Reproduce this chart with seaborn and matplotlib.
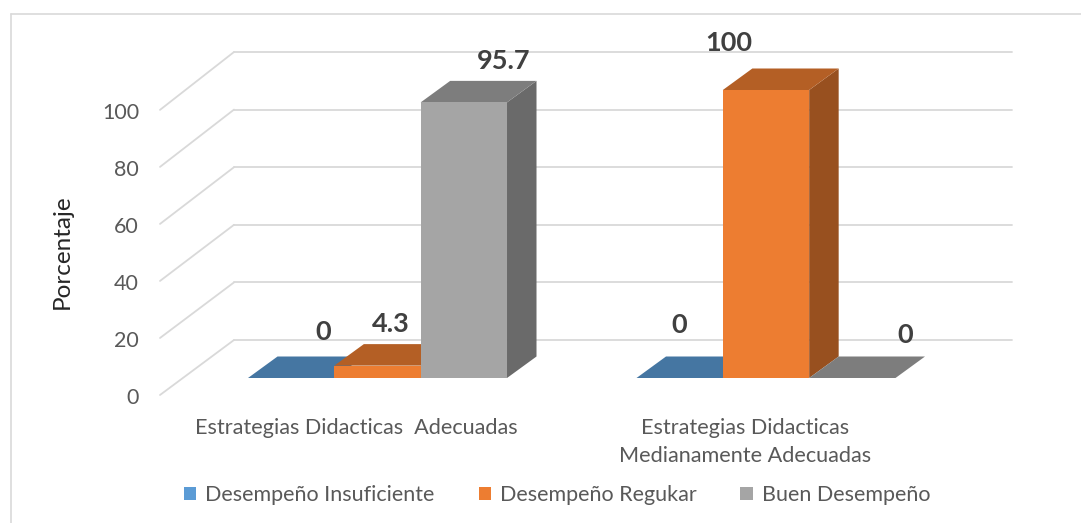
import numpy as np
import pandas as pd
import matplotlib
matplotlib.use("Agg")
import matplotlib.pyplot as plt
import matplotlib.colors as mcolors
from matplotlib.patches import Polygon
from matplotlib.lines import Line2D
from matplotlib.transforms import ScaledTranslation
import seaborn as sns

# ---------------- data ----------------
categories = ["Estrategias Didacticas  Adecuadas",
              "Estrategias Didacticas\nMedianamente Adecuadas"]
series = ["Desempeño Insuficiente", "Desempeño Regukar", "Buen Desempeño"]
insuficiente = [0, 0]
regular = [4.3, 100]
bueno = [95.7, 0]
y_ticks = [0, 20, 40, 60, 80, 100]
y_label = "Porcentaje"

# ---------------- style ----------------
colors = ["#5B9BD5", "#ED7D31", "#A5A5A5"]
TOP_SHADE, SIDE_SHADE = 0.76, 0.64
GRID_C = "#D9D9D9"
TXT_C = "#595959"

sns.set_style("white")
plt.rcParams["font.family"] = ["Lato", "DejaVu Sans"]

W, H, DPI = 1081, 523, 100
fig = plt.figure(figsize=(W / DPI, H / DPI), dpi=DPI)
fig.patch.set_facecolor("white")

# axes placed on the bar front plane (pixel layout)
AX_L, AX_R = 234, 1012
AX_BASE, AX_TOP = 378, 90
ax = fig.add_axes([AX_L / W, (H - AX_BASE) / H, (AX_R - AX_L) / W, (AX_BASE - AX_TOP) / H])

df = pd.DataFrame({
    "Categoria": categories * 3,
    "Serie": np.repeat(series, len(categories)),
    "Valor": insuficiente + regular + bueno,
})

sns.barplot(data=df, x="Categoria", y="Valor", hue="Serie", order=categories,
            hue_order=series, palette=colors, saturation=1, width=2 / 3,
            linewidth=0, ax=ax)

XLIM = (-0.3694, 1.6332)
ax.set_xlim(*XLIM)
ax.set_ylim(0, 100)
ax.set_axis_off()

sx = (AX_R - AX_L) / (XLIM[1] - XLIM[0])   # px per x unit
sy = (AX_BASE - AX_TOP) / 100.0            # px per y unit
DEPTH_DX, DEPTH_DY = 29.5, 21.5
ddx, ddy = DEPTH_DX / sx, DEPTH_DY / sy

def px(dx, dy):
    return ScaledTranslation(dx / DPI, dy / DPI, fig.dpi_scale_trans)

# back wall gridlines + floor diagonals + value labels on the front plane
WALL_DY = 38
FRONT_DX, FRONT_DY = -74, -17
FRONT_SCALE = 0.99
for v in y_ticks:
    ax.plot([0, 1], [v, v], transform=ax.get_yaxis_transform() + px(0, WALL_DY),
            color=GRID_C, lw=1.3, zorder=1, clip_on=False)
    ax.plot([XLIM[0] + FRONT_DX / sx, XLIM[0]],
            [v * FRONT_SCALE + FRONT_DY / sy, v + WALL_DY / sy],
            color=GRID_C, lw=1.3, zorder=1, clip_on=False)
    ax.text(0, v * FRONT_SCALE, f"{v}",
            transform=ax.get_yaxis_transform() + px(-95, FRONT_DY - 9.5),
            ha="right", va="baseline", fontsize=15.5, color=TXT_C)

# 3D faces for bars
bars = []
for cont in ax.containers:
    for p in cont.patches:
        bars.append(p)
bars_sorted = sorted(bars, key=lambda p: p.get_x())
for k, p in enumerate(bars_sorted):
    x0, w, h = p.get_x(), p.get_width(), p.get_height()
    base = np.array(mcolors.to_rgb(p.get_facecolor()))
    z = 3 + k * 0.1
    side = Polygon([(x0 + w, 0), (x0 + w + ddx, ddy), (x0 + w + ddx, h + ddy), (x0 + w, h)],
                   closed=True, facecolor=base * SIDE_SHADE, edgecolor="none",
                   zorder=z, clip_on=False)
    top = Polygon([(x0, h), (x0 + w, h), (x0 + w + ddx, h + ddy), (x0 + ddx, h + ddy)],
                  closed=True, facecolor=base * TOP_SHADE, edgecolor="none",
                  zorder=z + 0.02, clip_on=False)
    ax.add_patch(side)
    ax.add_patch(top)
    p.set_zorder(z + 0.04)
    p.set_clip_on(False)

# data labels (pixel offsets from the bar's front-top centre)
label_offsets = {  # (series index, category index): (dx, dy)
    (0, 0): (32, 46), (1, 0): (13, 42), (2, 0): (40, 41),
    (0, 1): (0, 53), (1, 1): (-37, 47), (2, 1): (53, 43),
}
for si, cont in enumerate(ax.containers):
    for ci, p in enumerate(cont.patches):
        val = p.get_height()
        dx, dy = label_offsets[(si, ci)]
        ax.annotate(f"{val:g}", xy=(p.get_x() + p.get_width() / 2, val),
                    xytext=(dx, dy), textcoords="offset pixels",
                    ha="center", va="center", fontsize=19.5, fontweight="bold",
                    color="#404040", zorder=10, annotation_clip=False)

# category labels
for i, cat in enumerate(categories):
    ax.text(i, 0, cat, transform=ax.get_xaxis_transform() + px(-21, -40),
            ha="center", va="top", multialignment="center",
            fontsize=15.6, color=TXT_C, linespacing=1.5)

# y label
ax.text(0, 0.5, y_label, transform=ax.transAxes + px(-172, -18), rotation=90,
        ha="center", va="center", fontsize=17.5, color="#262626")

# legend
sns.move_legend(ax, "center", bbox_to_anchor=(557 / W, 28 / H),
                bbox_transform=fig.transFigure, ncol=3, title=None, frameon=False,
                fontsize=15.5, handlelength=0.56, handleheight=0.56,
                handletextpad=0.42, columnspacing=2.05, borderaxespad=0,
                borderpad=0, labelcolor=TXT_C)

# outer frame (cropped at right/bottom)
fig.add_artist(Line2D([11 / W, 1], [1 - 14 / H, 1 - 14 / H], transform=fig.transFigure,
                      color=GRID_C, lw=1.2))
fig.add_artist(Line2D([11 / W, 11 / W], [0, 1 - 14 / H], transform=fig.transFigure,
                      color=GRID_C, lw=1.2))

fig.savefig("out.png", dpi=DPI, facecolor="white")
